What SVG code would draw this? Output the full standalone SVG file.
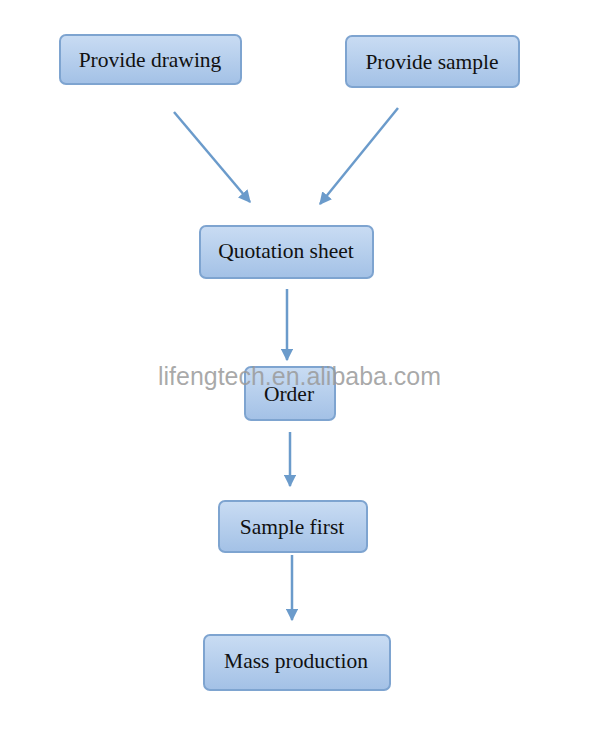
<svg xmlns="http://www.w3.org/2000/svg" width="600" height="756" viewBox="0 0 600 756">
<defs>
<linearGradient id="g" x1="0" y1="0" x2="0" y2="1">
<stop offset="0" stop-color="#c9dcf3"/>
<stop offset="1" stop-color="#a3c1e6"/>
</linearGradient>
<marker id="ah" viewBox="0 0 10 10" refX="9" refY="5" markerWidth="5" markerHeight="5" orient="auto" markerUnits="strokeWidth">
<path d="M0,0 L10,5 L0,10 z" fill="#6b9bcb"/>
</marker>
</defs>
<style>
.box{fill:url(#g);stroke:#7ea4d0;stroke-width:2}
.lbl{font-family:"Liberation Serif",serif;font-size:21.5px;fill:#111;text-anchor:middle}
.c line{stroke:#6b9bcb;stroke-width:2.5;marker-end:url(#ah)}
.wm{font-family:"Liberation Sans",Arial,sans-serif;font-size:25px;fill:#9a9a9a;fill-opacity:0.85}
</style>
<rect width="600" height="756" fill="#fff"/>
<g class="c" id="connectors">
<line x1="174" y1="112" x2="250" y2="202"/>
<line x1="398" y1="108" x2="320" y2="204"/>
<line x1="287" y1="289" x2="287" y2="360"/>
<line x1="290" y1="432" x2="290" y2="486"/>
<line x1="292" y1="555" x2="292" y2="620"/>
</g>
<g id="n1"><rect class="box" x="60" y="35" width="181" height="49" rx="6"/><text class="lbl" x="150" y="67">Provide drawing</text></g>
<g id="n2"><rect class="box" x="346" y="36" width="173" height="51" rx="6"/><text class="lbl" x="432" y="69">Provide sample</text></g>
<g id="n3"><rect class="box" x="200" y="226" width="173" height="52" rx="6"/><text class="lbl" x="286" y="258">Quotation sheet</text></g>
<g id="n4"><rect class="box" x="245" y="367" width="90" height="53" rx="6"/><text class="lbl" x="289" y="401">Order</text></g>
<g id="n5"><rect class="box" x="219" y="501" width="148" height="51" rx="6"/><text class="lbl" x="292" y="534">Sample first</text></g>
<g id="n6"><rect class="box" x="204" y="635" width="186" height="55" rx="6"/><text class="lbl" x="296" y="668">Mass production</text></g>
<text class="wm" x="158" y="385" textLength="283" lengthAdjust="spacingAndGlyphs">lifengtech.en.alibaba.com</text>
</svg>
